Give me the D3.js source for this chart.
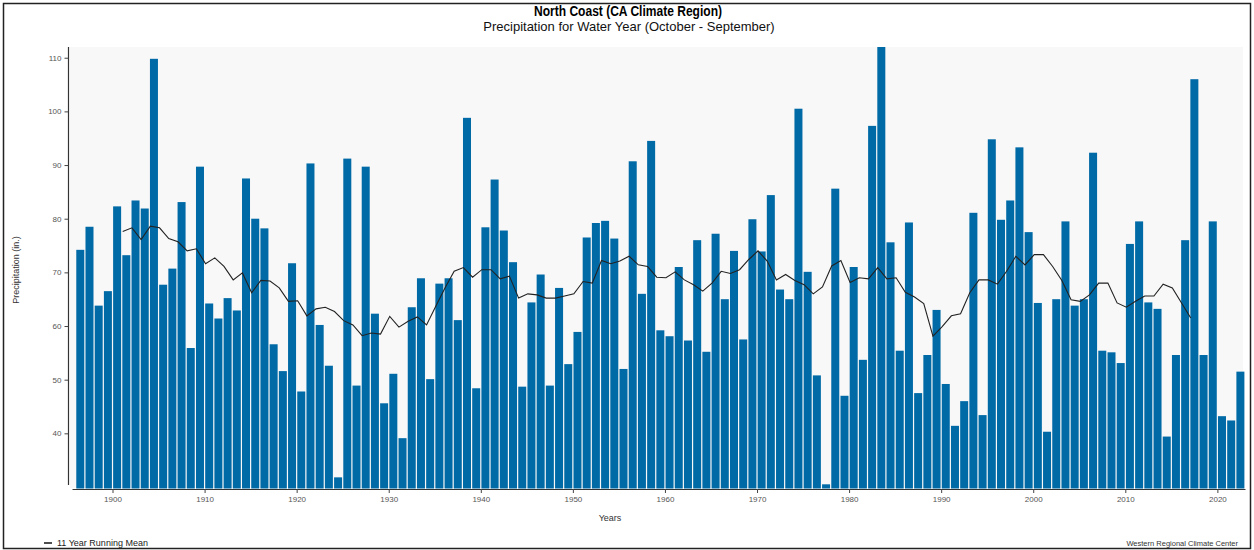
<!DOCTYPE html>
<html>
<head>
<meta charset="utf-8">
<script src="https://cdn.jsdelivr.net/npm/d3@7"></script>
<style>
  body { margin: 0; background: #fff; font-family: "Liberation Sans", Arial, sans-serif; }
  svg { display: block; }
</style>
</head>
<body>
<div id="chart"></div>
<script>
// water years shown as bars
const years = d3.range(1896, 2023);

// yearly precipitation (in.), 1896-2022
const precip = [
  74.2, 78.5, 63.8, 66.5, 82.3, 73.2, 83.4, 81.9, 109.8, 67.7,
  70.7, 83.1, 55.9, 89.7, 64.2, 61.4, 65.2, 62.9, 87.5, 80.0,
  78.2, 56.6, 51.6, 71.7, 47.8, 90.3, 60.2, 52.6, 31.8, 91.2,
  48.9, 89.7, 62.3, 45.6, 51.1, 39.1, 63.5, 68.9, 50.1, 67.9,
  68.9, 61.1, 98.8, 48.4, 78.4, 87.3, 77.8, 71.9, 48.7, 64.4,
  69.6, 48.9, 67.1, 52.9, 58.9, 76.5, 79.2, 79.6, 76.3, 52.0,
  90.7, 66.0, 94.5, 59.2, 58.1, 71.0, 57.3, 76.0, 55.2, 77.2,
  65.0, 74.0, 57.5, 79.9, 73.9, 84.4, 66.8, 65.0, 100.5, 70.1,
  50.8, 30.5, 85.6, 47.0, 71.0, 53.7, 97.3, 112.0, 75.6, 55.4,
  79.3, 47.5, 54.6, 63.0, 49.2, 41.4, 46.0, 81.1, 43.4, 94.8,
  79.8, 83.4, 93.3, 77.5, 64.3, 40.3, 65.0, 79.5, 63.8, 65.0,
  92.3, 55.4, 55.1, 53.1, 75.3, 79.5, 64.4, 63.2, 39.4, 54.6,
  76.0, 106.0, 54.6, 79.5, 43.2, 42.4, 51.5
];

// 11 year running mean, 1901-2017
const meanYears = d3.range(1901, 2018);
const runningMean = [
  77.6, 78.3, 76.1, 78.6, 78.3, 76.3, 75.7, 74.0, 74.4, 71.6,
  72.7, 71.1, 68.6, 69.9, 66.2, 68.5, 68.4, 67.1, 64.6, 64.7,
  61.9, 63.2, 63.5, 62.7, 61.0, 60.2, 58.2, 58.7, 58.5, 61.8,
  59.8, 60.9, 61.7, 60.2, 63.7, 67.1, 70.2, 70.9, 69.1, 70.5,
  70.5, 68.8, 69.3, 65.2, 66.0, 65.8, 65.2, 65.2, 65.6, 66.0,
  68.3, 68.0, 72.2, 71.6, 72.1, 73.0, 71.4, 71.1, 69.1, 69.0,
  70.1, 68.6, 67.7, 66.5, 68.0, 70.2, 69.8, 70.5, 72.4, 74.0,
  72.1, 68.6, 69.6, 68.5, 67.7, 66.0, 67.3, 71.2, 72.2, 68.1,
  69.0, 68.8, 70.9, 68.8, 69.0, 66.3, 65.4, 64.2, 58.1, 59.9,
  61.9, 62.3, 66.2, 68.6, 68.6, 67.8, 70.2, 73.0, 71.4, 73.3,
  73.3, 71.1, 68.5, 64.9, 64.6, 65.8, 68.0, 68.0, 64.3, 63.5,
  64.6, 65.6, 65.6, 67.8, 67.1, 64.3, 61.5
];

const decadeTicks = [1900, 1910, 1920, 1930, 1940, 1950, 1960, 1970, 1980, 1990, 2000, 2010, 2020];
const precipTicks = [40, 50, 60, 70, 80, 90, 100, 110];

const width = 1254, height = 550;

const svg = d3.select("#chart")
  .append("svg")
  .attr("width", width)
  .attr("height", height);

// outer frame
svg.append("rect")
  .attr("x", 3.5).attr("y", 3.5)
  .attr("width", 1247).attr("height", 545)
  .attr("fill", "none")
  .attr("stroke", "#222")
  .attr("stroke-width", 1.5);

const x = d3.scaleLinear().domain([1895.6, 2023]).range([72, 1245]);
const y = d3.scaleLinear().domain([30, 112]).range([487, 47]);

// plot background
svg.append("rect")
  .attr("x", 70).attr("y", 47)
  .attr("width", 1173).attr("height", 441)
  .attr("fill", "#f8f8f8");

// bars
svg.append("g")
  .selectAll("rect")
  .data(years.map((yr, i) => ({ yr, v: precip[i] })))
  .join("rect")
  .attr("x", d => x(d.yr) + 0.6)
  .attr("width", d => x(d.yr + 1) - x(d.yr) - 1.2)
  .attr("y", d => y(d.v))
  .attr("height", d => y(30) + 1.5 - y(d.v))
  .attr("fill", "#006aa6");

// running mean
svg.append("path")
  .datum(meanYears.map((yr, i) => ({ yr, v: runningMean[i] })))
  .attr("fill", "none")
  .attr("stroke", "#222")
  .attr("stroke-width", 1.1)
  .attr("d", d3.line()
    .x(d => x(d.yr) + 1)
    .y(d => y(d.v)));

// axes
const xAxis = svg.append("g")
  .attr("transform", "translate(0,489)")
  .call(d3.axisBottom(x).tickValues(decadeTicks).tickFormat(d3.format("d")).tickSize(4).tickSizeOuter(0));

const yAxis = svg.append("g")
  .attr("transform", "translate(68.5,0)")
  .call(d3.axisLeft(y).tickValues(precipTicks).tickSize(4).tickSizeOuter(0));

[xAxis, yAxis].forEach(g => {
  g.select(".domain").attr("stroke", "#333").attr("stroke-width", 1.2);
  g.selectAll(".tick line").attr("stroke", "#444");
  g.selectAll(".tick text")
    .attr("fill", "#555")
    .style("font-family", "Liberation Sans, Arial, sans-serif")
    .style("font-size", "8px");
});
yAxis.select(".domain").attr("d", `M0,${y(112)}V485`);

// titles
svg.append("text")
  .attr("x", 628).attr("y", 16)
  .attr("text-anchor", "middle")
  .attr("textLength", 188)
  .attr("lengthAdjust", "spacingAndGlyphs")
  .style("font-size", "14px")
  .style("font-weight", "bold")
  .attr("fill", "#000")
  .text("North Coast (CA Climate Region)");

svg.append("text")
  .attr("x", 629).attr("y", 31)
  .attr("text-anchor", "middle")
  .style("font-size", "13px")
  .attr("fill", "#111")
  .text("Precipitation for Water Year (October - September)");

svg.append("text")
  .attr("x", 610).attr("y", 521)
  .attr("text-anchor", "middle")
  .style("font-size", "9px")
  .attr("fill", "#333")
  .text("Years");

svg.append("text")
  .attr("transform", "translate(19,270) rotate(-90)")
  .attr("text-anchor", "middle")
  .style("font-size", "9px")
  .attr("fill", "#333")
  .text("Precipitation (in.)");

// legend
svg.append("line")
  .attr("x1", 44).attr("x2", 52)
  .attr("y1", 543).attr("y2", 543)
  .attr("stroke", "#222")
  .attr("stroke-width", 1.6);

svg.append("text")
  .attr("x", 57).attr("y", 546)
  .style("font-size", "9px")
  .attr("fill", "#222")
  .text("11 Year Running Mean");

svg.append("text")
  .attr("x", 1238).attr("y", 546)
  .attr("text-anchor", "end")
  .style("font-size", "7.5px")
  .attr("fill", "#333")
  .text("Western Regional Climate Center");
</script>
</body>
</html>
